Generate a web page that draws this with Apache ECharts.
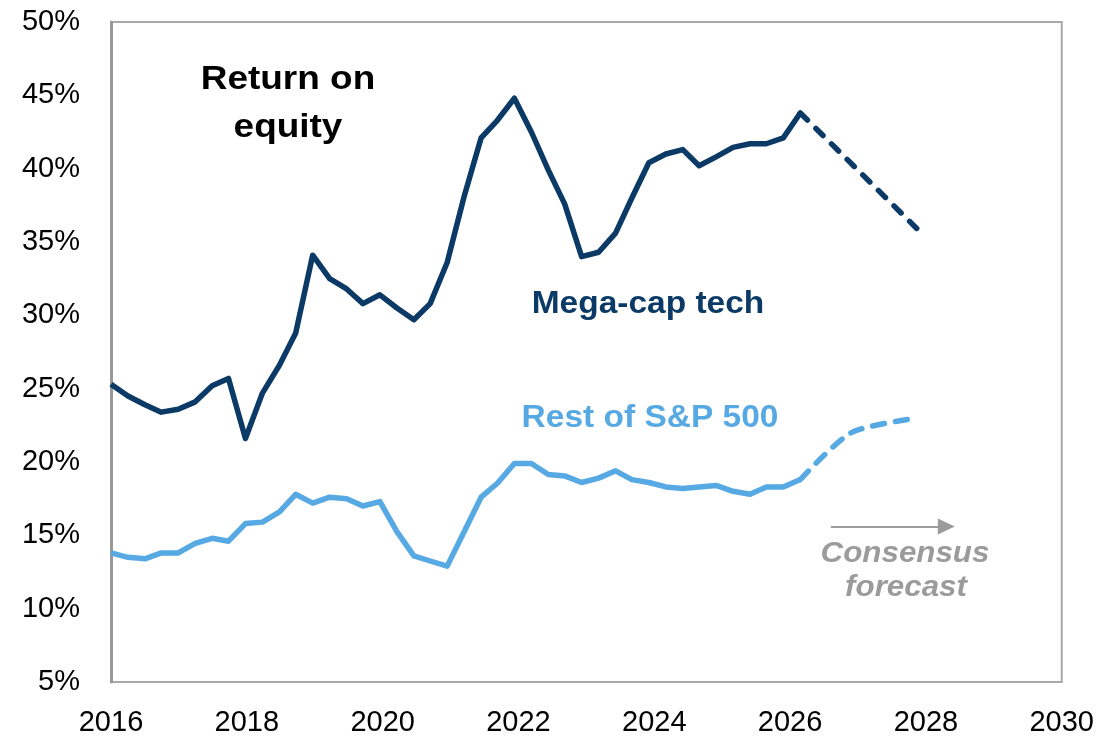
<!DOCTYPE html>
<html>
<head>
<meta charset="utf-8">
<script src="https://cdn.jsdelivr.net/npm/echarts@6/dist/echarts.min.js"></script>
<style>
  html, body { margin: 0; padding: 0; background: #fff; }
  #chart { width: 1097px; height: 740px; }
</style>
</head>
<body>
<div id="chart"></div>
<script>
// Quarterly observation dates (decimal years)
var years = [2016.00, 2016.25, 2016.50, 2016.74, 2016.99, 2017.24, 2017.49, 2017.73, 2017.98, 2018.23,
             2018.48, 2018.72, 2018.97, 2019.22, 2019.47, 2019.71, 2019.96, 2020.21, 2020.46, 2020.70,
             2020.95, 2021.20, 2021.45, 2021.69, 2021.94, 2022.19, 2022.44, 2022.68, 2022.93, 2023.18,
             2023.43, 2023.67, 2023.92, 2024.17, 2024.42, 2024.66, 2024.91, 2025.16, 2025.41, 2025.65,
             2025.90, 2026.15];

// Return on equity, %
var megaCap = [25.3, 24.5, 23.9, 23.4, 23.6, 24.1, 25.2, 25.7, 21.6, 24.7,
               26.6, 28.8, 34.1, 32.5, 31.8, 30.8, 31.4, 30.5, 29.7, 30.8,
               33.6, 38.1, 42.1, 43.3, 44.8, 42.5, 39.9, 37.6, 34.0, 34.3,
               35.6, 38.0, 40.4, 41.0, 41.3, 40.2, 40.8, 41.45, 41.7, 41.7,
               42.1, 43.8];

var restSP = [13.8, 13.5, 13.4, 13.8, 13.8, 14.45, 14.8, 14.6, 15.8, 15.9,
              16.6, 17.8, 17.2, 17.6, 17.5, 17.0, 17.3, 15.25, 13.6, 13.25,
              12.9, 15.25, 17.6, 18.55, 19.9, 19.9, 19.15, 19.05, 18.6, 18.9,
              19.4, 18.8, 18.6, 18.3, 18.2, 18.3, 18.4, 18.0, 17.8, 18.3,
              18.3, 18.8];

// Consensus forecasts
var forecastYearsMega = [2026.15, 2027.87];
var forecastMega = [43.8, 35.9];
var forecastYearsRest = [2026.15, 2026.90, 2027.87];
var forecastRest = [18.8, 22.0, 23.0];

// Axis ticks
var xMin = 2016, xMax = 2030, xStep = 2;
var yMin = 5, yMax = 50, yStep = 5;

var DARK = '#0b3a66';
var LIGHT = '#57a9e4';
var GREY = '#9b9b9b';
var FONT = '"Liberation Sans", Arial, sans-serif';

function zip(xs, ys) { return xs.map(function (x, i) { return [x, ys[i]]; }); }

var chart = echarts.init(document.getElementById('chart'), null, { renderer: 'canvas' });

chart.setOption({
  animation: false,
  backgroundColor: '#fff',
  grid: {
    left: 111, right: 35, top: 22, bottom: 58,
    show: true, borderColor: '#a8a8a8', borderWidth: 2, backgroundColor: 'transparent'
  },
  xAxis: {
    type: 'value', min: xMin, max: xMax, interval: xStep,
    axisLine: { show: false }, axisTick: { show: false }, splitLine: { show: false },
    axisLabel: { color: '#000', fontSize: 29, fontFamily: FONT, margin: 26,
                 formatter: function (v) { return String(v); } }
  },
  yAxis: {
    type: 'value', min: yMin, max: yMax, interval: yStep,
    axisLine: { show: true, lineStyle: { color: '#999', width: 3 } },
    axisTick: { show: false }, splitLine: { show: false },
    axisLabel: { color: '#000', fontSize: 29, fontFamily: FONT, margin: 31, formatter: '{value}%' }
  },
  series: [
    {
      name: 'Mega-cap tech', type: 'line', data: zip(years, megaCap),
      showSymbol: false, lineStyle: { color: DARK, width: 5.5, join: 'round' }, z: 3
    },
    {
      name: 'Mega-cap tech forecast', type: 'line', data: zip(forecastYearsMega, forecastMega),
      showSymbol: false, lineStyle: { color: DARK, width: 5.5, type: [10, 12], cap: 'round' }, z: 3
    },
    {
      name: 'Rest of S&P 500', type: 'line', data: zip(years, restSP),
      showSymbol: false, lineStyle: { color: LIGHT, width: 5.5, join: 'round' }, z: 2
    },
    {
      name: 'Rest of S&P 500 forecast', type: 'line', data: zip(forecastYearsRest, forecastRest),
      showSymbol: false, smooth: 0.25, lineStyle: { color: LIGHT, width: 5.5, type: [12, 11], cap: 'round' }, z: 2,
      markLine: {
        silent: true, symbol: ['none', 'triangle'], symbolSize: [16, 17],
        label: { show: false },
        lineStyle: { color: GREY, width: 2, type: 'solid' },
        data: [[{ coord: [2026.6, 15.6] }, { coord: [2028.3, 15.6] }]]
      }
    }
  ],
  graphic: [
    { type: 'text', x: 288, y: 80, scaleX: 1.12,
      style: { text: 'Return on', fill: '#000', font: 'bold 33px ' + FONT, align: 'center', verticalAlign: 'middle' } },
    { type: 'text', x: 288, y: 128, scaleX: 1.12,
      style: { text: 'equity', fill: '#000', font: 'bold 33px ' + FONT, align: 'center', verticalAlign: 'middle' } },
    { type: 'text', x: 648, y: 304, scaleX: 1.08,
      style: { text: 'Mega-cap tech', fill: DARK, font: 'bold 31px ' + FONT, align: 'center', verticalAlign: 'middle' } },
    { type: 'text', x: 650, y: 418, scaleX: 1.08,
      style: { text: 'Rest of S&P 500', fill: LIGHT, font: 'bold 31px ' + FONT, align: 'center', verticalAlign: 'middle' } },
    { type: 'text', x: 905, y: 554, scaleX: 1.08,
      style: { text: 'Consensus', fill: GREY, font: 'italic bold 29px ' + FONT, align: 'center', verticalAlign: 'middle' } },
    { type: 'text', x: 906, y: 588, scaleX: 1.08,
      style: { text: 'forecast', fill: GREY, font: 'italic bold 29px ' + FONT, align: 'center', verticalAlign: 'middle' } }
  ]
});
</script>
</body>
</html>
